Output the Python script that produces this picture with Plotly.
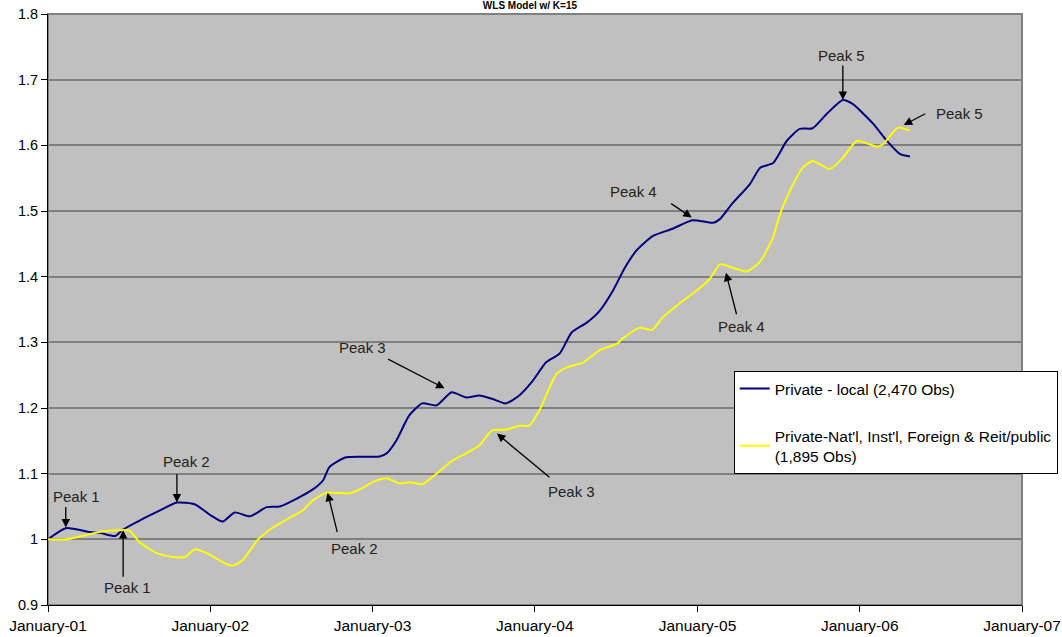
import plotly.graph_objects as go

# ---- data ----
blue_dates = ["2001-01-01","2001-02-10","2001-04-05","2001-04-27","2001-06-01","2001-06-19",
              "2001-07-27","2001-09-10","2001-10-18","2001-11-28","2002-01-01","2002-01-29",
              "2002-02-25","2002-03-31","2002-05-08","2002-06-06","2002-07-20","2002-08-24",
              "2002-09-12","2002-09-26","2002-11-03","2003-01-17","2003-02-02","2003-02-24",
              "2003-03-25","2003-04-23","2003-05-25","2003-06-28","2003-07-31","2003-08-29",
              "2003-09-27","2003-10-28","2003-11-27","2003-12-26","2004-01-27","2004-02-26",
              "2004-03-24","2004-04-27","2004-05-26","2004-06-25","2004-07-22","2004-08-17",
              "2004-09-23","2004-11-06","2004-12-21","2005-02-05","2005-02-21","2005-03-21",
              "2005-04-29","2005-05-22","2005-06-20","2005-07-21","2005-08-19","2005-09-17",
              "2005-10-19","2005-11-24","2005-12-16","2006-01-31","2006-03-03","2006-04-01",
              "2006-04-24"]
blue_values = [1.000,1.017,1.011,1.010,1.005,1.015,
               1.029,1.044,1.056,1.053,1.037,1.027,
               1.041,1.035,1.049,1.050,1.064,1.078,
               1.090,1.110,1.125,1.126,1.131,1.151,
               1.189,1.207,1.204,1.224,1.216,1.219,
               1.214,1.207,1.219,1.240,1.270,1.283,
               1.315,1.330,1.348,1.379,1.414,1.440,
               1.462,1.473,1.486,1.482,1.488,1.512,
               1.541,1.566,1.573,1.607,1.625,1.626,
               1.648,1.669,1.663,1.633,1.607,1.587,
               1.583]

yellow_dates = ["2001-01-01","2001-02-12","2001-04-05","2001-05-02","2001-06-12","2001-07-04",
                "2001-07-27","2001-09-03","2001-10-09","2001-11-05","2001-11-28","2001-12-24",
                "2002-02-07","2002-02-21","2002-03-15","2002-04-16","2002-05-22","2002-06-29",
                "2002-07-28","2002-08-19","2002-09-20","2002-11-10","2002-12-09","2003-01-01",
                "2003-02-02","2003-03-03","2003-03-25","2003-04-23","2003-05-25","2003-06-30",
                "2003-07-31","2003-08-29","2003-09-27","2003-10-28","2003-11-27","2003-12-19",
                "2004-01-11","2004-02-19","2004-03-13","2004-04-18","2004-05-26","2004-07-04",
                "2004-07-17","2004-08-24","2004-09-21","2004-10-15","2004-11-23","2005-01-07",
                "2005-01-29","2005-02-21","2005-03-15","2005-04-22","2005-05-22","2005-06-20",
                "2005-07-05","2005-07-28","2005-08-26","2005-09-17","2005-10-26","2005-11-24",
                "2005-12-26","2006-02-09","2006-02-23","2006-03-28","2006-04-24"]
yellow_values = [1.000,1.000,1.008,1.012,1.014,1.013,
                 0.995,0.979,0.973,0.973,0.985,0.979,
                 0.962,0.960,0.968,0.998,1.018,1.033,
                 1.044,1.059,1.071,1.070,1.078,1.087,
                 1.093,1.085,1.087,1.084,1.100,1.120,
                 1.131,1.143,1.166,1.167,1.173,1.173,
                 1.196,1.252,1.262,1.269,1.288,1.298,
                 1.306,1.322,1.319,1.338,1.360,1.383,
                 1.397,1.419,1.415,1.408,1.423,1.460,
                 1.494,1.531,1.566,1.576,1.564,1.581,
                 1.607,1.598,1.602,1.627,1.622]

tick_dates = ["2001-01-01","2002-01-01","2003-01-01","2004-01-01",
              "2005-01-01","2006-01-01","2007-01-01"]
y_ticks = [0.9, 1.0, 1.1, 1.2, 1.3, 1.4, 1.5, 1.6, 1.7, 1.8]

# peak annotations: label, tip date, tip value
peak_labels = ["Peak 1","Peak 1","Peak 2","Peak 2","Peak 3","Peak 3","Peak 4","Peak 4","Peak 5","Peak 5"]
peak_dates = ["2001-02-10","2001-06-19","2001-10-18","2002-09-22","2003-06-12",
              "2003-10-08","2004-12-19","2005-03-06","2005-11-24","2006-04-10"]
peak_values = [1.018,1.014,1.056,1.071,1.230,1.161,1.490,1.406,1.669,1.631]
# styling offsets (pixels): arrow tail relative to tip, text center relative to tip
arrow_ax = [0, 0, 0, 10, -58, 54, -22, 11, 0, 23]
arrow_ay = [-22, 48, -30, 41, -30, 45, -15, 43, -36, -12]
text_dx = [11, 4, 10, 27, -82, 75, -58, 16, -1, 56]
text_dy = [31, -57, 41, -56, 41, -58, 26, -54, 45, 11]

FONT = "Liberation Sans, Arial, sans-serif"

fig = go.Figure()
fig.add_trace(go.Scatter(x=blue_dates, y=blue_values, mode="lines",
                         name="Private - local (2,470 Obs)",
                         line=dict(color="#000080", width=2, shape="spline", smoothing=0.6),
                         legendgroup="a"))
fig.add_trace(go.Scatter(x=yellow_dates, y=yellow_values, mode="lines",
                         name="Private-Nat'l, Inst'l, Foreign & Reit/public<br>(1,895 Obs)",
                         line=dict(color="#FFFF00", width=2, shape="spline", smoothing=0.6),
                         legendgroup="b"))

annotations = []
for lab, d, v, ax, ay, dx, dy in zip(peak_labels, peak_dates, peak_values,
                                     arrow_ax, arrow_ay, text_dx, text_dy):
    annotations.append(dict(x=d, y=v, xref="x", yref="y", text="", showarrow=True,
                            ax=ax, ay=ay, arrowhead=2, arrowsize=1.3, arrowwidth=1.3,
                            arrowcolor="#000000", standoff=0))
    annotations.append(dict(x=d, y=v, xref="x", yref="y", text=lab, showarrow=False,
                            xshift=dx, yshift=dy, xanchor="center", yanchor="middle",
                            font=dict(family=FONT, size=15, color="#222222")))

fig.update_layout(
    width=1062, height=637,
    margin=dict(l=48, r=40, t=14, b=32, autoexpand=False),
    paper_bgcolor="white",
    plot_bgcolor="#C0C0C0",
    title=dict(text="<b>WLS Model w/ K=15</b>", x=0.499, xref="container", y=0.9965,
               yref="container", yanchor="top", pad=dict(t=0, b=0),
               font=dict(family=FONT, size=10, color="#000000")),
    font=dict(family=FONT, size=14, color="#000000"),
    xaxis=dict(type="date", range=["2001-01-01", "2007-01-01"],
               tickvals=tick_dates, tickformat="%B-%y",
               showgrid=False, zeroline=False,
               showline=True, linecolor="#000000", linewidth=1,
               ticks="outside", ticklen=6, tickcolor="#000000",
               tickfont=dict(size=15.5)),
    yaxis=dict(range=[0.9, 1.8], tickvals=y_ticks,
               showgrid=True, gridcolor="#7f7f7f", gridwidth=1.5, zeroline=False,
               showline=True, linecolor="#000000", linewidth=1,
               ticks="outside", ticklen=6, tickcolor="#000000",
               tickfont=dict(size=14.5)),
    legend=dict(x=0.704, y=0.396, xanchor="left", yanchor="top",
                bgcolor="white", bordercolor="#000000", borderwidth=1,
                font=dict(family=FONT, size=15.5, color="#000000"),
                tracegroupgap=24),
    showlegend=True,
    annotations=annotations,
    shapes=[dict(type="rect", xref="paper", yref="paper", x0=0, x1=1, y0=0, y1=1,
                 line=dict(color="#808080", width=2), layer="below")],
)

fig.write_html("out.html", config={"displayModeBar": False},
               post_script="document.body.style.margin='0';document.body.style.overflow='hidden';")
